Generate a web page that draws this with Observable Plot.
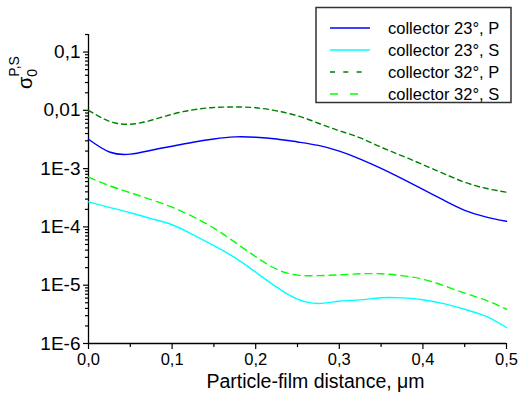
<!DOCTYPE html>
<html>
<head>
<meta charset="utf-8">
<script src="https://cdn.jsdelivr.net/npm/d3@7"></script>
<script src="https://cdn.jsdelivr.net/npm/@observablehq/plot@0.6"></script>
<style>
  html, body { margin: 0; padding: 0; background: #fff; }
  #chart svg { display: block; }
</style>
</head>
<body>
<div id="chart"></div>
<script>
// Particle-film distance, µm
const distance = [0, 0.025, 0.05, 0.075, 0.1, 0.125, 0.15, 0.175, 0.2, 0.225, 0.25,
                  0.275, 0.3, 0.325, 0.35, 0.375, 0.4, 0.425, 0.45, 0.475, 0.5];
// collector 23°, P
const p23 = [3.19e-3, 1.93e-3, 1.77e-3, 2.07e-3, 2.42e-3, 2.84e-3, 3.23e-3, 3.50e-3, 3.46e-3, 3.23e-3, 2.87e-3,
             2.50e-3, 1.99e-3, 1.46e-3, 1.01e-3, 6.73e-4, 4.40e-4, 2.87e-4, 1.93e-4, 1.49e-4, 1.25e-4];
// collector 23°, S
const s23 = [2.69e-4, 2.17e-4, 1.75e-4, 1.39e-4, 1.09e-4, 7.35e-5, 4.77e-5, 2.97e-5, 1.67e-5, 9.25e-6, 5.75e-6,
             4.85e-6, 5.32e-6, 5.6e-6, 6.11e-6, 6.07e-6, 5.64e-6, 4.82e-6, 3.87e-6, 2.94e-6, 1.88e-6];
// collector 32°, P
const p32 = [1.0e-2, 6.5e-3, 5.78e-3, 6.76e-3, 8.57e-3, 1.02e-2, 1.12e-2, 1.14e-2, 1.11e-2, 9.8e-3, 8.07e-3,
             6.01e-3, 4.47e-3, 3.37e-3, 2.33e-3, 1.66e-3, 1.17e-3, 8.2e-4, 5.85e-4, 4.61e-4, 3.94e-4];
// collector 32°, S
const s32 = [7.13e-4, 5.09e-4, 3.86e-4, 2.93e-4, 2.18e-4, 1.50e-4, 9.5e-5, 5.47e-5, 3.08e-5, 1.88e-5, 1.49e-5,
             1.46e-5, 1.51e-5, 1.57e-5, 1.57e-5, 1.46e-5, 1.27e-5, 9.8e-6, 7.3e-6, 5.54e-6, 3.87e-6];

const seriesNames = ["collector 23°, P", "collector 23°, S", "collector 32°, P", "collector 32°, S"];
const seriesValues = [p23, s23, p32, s32];
const seriesColors = ["#0000ff", "#00ffff", "#008000", "#00ff00"];
const seriesDash = [null, null, "5,4", "7,5"];
const legendDash = [null, null, "5,8.3", "8,12"];

const xTicks = [0, 0.1, 0.2, 0.3, 0.4, 0.5];
const xTickLabels = ["0,0", "0,1", "0,2", "0,3", "0,4", "0,5"];
const xMinor = [0.05, 0.15, 0.25, 0.35, 0.45];
const yTicks = [1e-6, 1e-5, 1e-4, 1e-3, 1e-2, 1e-1];
const yTickLabels = ["1E-6", "1E-5", "1E-4", "1E-3", "0,01", "0,1"];
const xLabel = "Particle-film distance, \u03bcm";

const yMinor = [];
for (const d of yTicks) for (let k = 2; k <= 9; k++) { const v = d * k; if (v <= 0.2) yMinor.push(v); }

const rows = [];
seriesNames.forEach((name, i) => distance.forEach((x, j) => rows.push({series: name, x, y: seriesValues[i][j]})));

const W = 518, H = 404;
const font = "'Liberation Sans', Arial, Helvetica, sans-serif";

const marks = [
  Plot.axisX(xMinor, {tickSize: 4, tickFormat: () => "", label: null, strokeWidth: 1.2}),
  Plot.axisX(xTicks, {tickSize: 6, tickPadding: 4, tickFormat: (d) => xTickLabels[xTicks.indexOf(d)], label: null, strokeWidth: 1.2, fontSize: 16.5}),
  Plot.axisY(yMinor, {tickSize: 3, tickFormat: () => "", label: null, strokeWidth: 1.2}),
  Plot.axisY(yTicks, {tickSize: 5, tickPadding: 3, tickFormat: (d) => yTickLabels[yTicks.indexOf(d)], label: null, strokeWidth: 1.2, fontSize: 19}),
  Plot.ruleX([0], {stroke: "#000", strokeWidth: 1.3}),
  Plot.ruleY([1e-6], {stroke: "#000", strokeWidth: 1.3}),
];
seriesNames.forEach((name, i) => {
  marks.push(Plot.line(rows.filter(r => r.series === name), {
    x: "x", y: "y", stroke: seriesColors[i], strokeWidth: 1.4,
    strokeDasharray: seriesDash[i] || undefined, curve: "natural"
  }));
});
marks.push(Plot.text([xLabel], {frameAnchor: "bottom", dy: 44, dx: 18, text: d => d, fontSize: 19.5}));

const chart = Plot.plot({
  width: W, height: H,
  marginLeft: 88, marginRight: 12, marginTop: 34, marginBottom: 61,
  style: {fontFamily: font, fontSize: "17px", color: "#000", background: "#fff", overflow: "visible"},
  x: {domain: [0, 0.5], axis: null},
  y: {type: "log", domain: [1e-6, 0.2], axis: null},
  marks
});

const svg = d3.select(chart);
// y axis label: sigma_0^{P,S}
const yl = svg.append("text")
  .attr("transform", "translate(32,89) rotate(-90)")
  .attr("text-anchor", "start")
  .attr("font-family", font).attr("fill", "#000");
yl.append("tspan").attr("font-size", 20).text("\u03c3");
yl.append("tspan").attr("font-size", 14).attr("dy", 5).text("0");
yl.append("tspan").attr("font-size", 14).attr("dx", -8).attr("dy", -18).text("P,S");

// legend
const lg = svg.append("g");
lg.append("rect").attr("x", 316).attr("y", 7.5).attr("width", 195).attr("height", 95)
  .attr("fill", "#fff").attr("stroke", "#333").attr("stroke-width", 1.5);
seriesNames.forEach((name, i) => {
  const y = 28 + i * 22;
  lg.append("line").attr("x1", 330).attr("x2", 370).attr("y1", y).attr("y2", y)
    .attr("stroke", seriesColors[i]).attr("stroke-width", 1.4)
    .attr("stroke-dasharray", legendDash[i] || null);
  lg.append("text").attr("x", 388).attr("y", y).attr("dy", "0.35em")
    .attr("text-anchor", "start")
    .attr("font-family", font).attr("font-size", 16.5).attr("fill", "#000").text(name);
});

document.getElementById("chart").appendChild(chart);
</script>
</body>
</html>
